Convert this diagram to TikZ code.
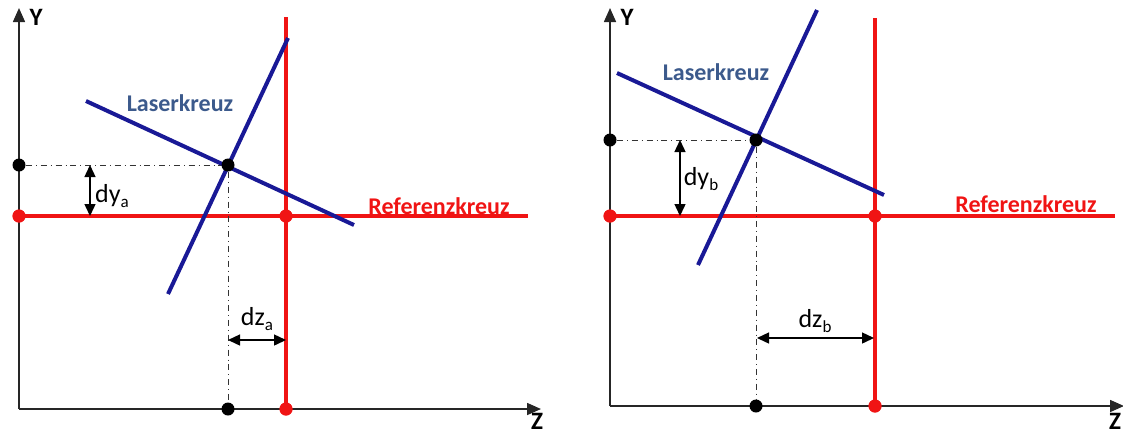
\documentclass[tikz,border=0pt]{standalone}
\usepackage{fontspec}
\setmainfont{Carlito}
\usetikzlibrary{arrows.meta}
\definecolor{refred}{RGB}{240,20,20}
\definecolor{laserblue}{RGB}{25,25,150}
\definecolor{labelblue}{RGB}{60,90,140}
\newcommand{\mysub}[1]{\raisebox{-0.4ex}{\fontsize{8.5}{8.5}\selectfont #1}}
\tikzset{
  axisline/.style={line width=0.8pt, draw=black!85, -{Triangle[length=7pt,width=6pt]}},
  refline/.style={refred, line width=2.2pt},
  laser/.style={laserblue, line width=2pt},
  guide/.style={dash dot, line width=0.5pt, black!80},
  meas/.style={{Triangle[length=6pt,width=5.5pt]}-{Triangle[length=6pt,width=5.5pt]}, line width=0.7pt},
  bdot/.style={circle, fill=black, inner sep=0pt, minimum size=6.5pt},
  rdot/.style={circle, fill=refred, inner sep=0pt, minimum size=6.5pt},
  axlbl/.style={font=\fontsize{12.5}{12.5}\selectfont\bfseries, inner sep=1pt},
  reflbl/.style={refred, font=\fontsize{12}{12}\selectfont\bfseries},
  laslbl/.style={labelblue, font=\fontsize{12}{12}\selectfont\bfseries},
  dlbl/.style={font=\fontsize{13}{13}\selectfont},
}
\begin{document}
\begin{tikzpicture}[x=0.5pt,y=-0.5pt]
\useasboundingbox (0,0) rectangle (1123,435);
% ---------- left panel ----------
\coordinate (LO) at (19,409);
\coordinate (LYtop) at (19,8);
\coordinate (LZend) at (541,409);
\draw[axisline] (LO) -- (LYtop);
\draw[axisline] (LO) -- (LZend);
\node[axlbl] (LYl) at (36,17) {Y};
\node[axlbl] (LZl) at (537,421) {Z};
\coordinate (LRend) at (528,216);
\coordinate (LRtop) at (286,17);
\node[rdot] (LRa) at (19,216) {};
\node[rdot] (LRc) at (286,216) {};
\node[rdot] (LRz) at (286,409) {};
\draw[refline] (LRa.center) -- (LRend);
\draw[refline] (LRtop) -- (LRz.center);
\coordinate (L1a) at (86,101);
\coordinate (L1b) at (354,225);
\coordinate (L2a) at (168,294);
\coordinate (L2b) at (288,38);
\draw[laser] (L1a) -- (L1b);
\draw[laser] (L2a) -- (L2b);
\node[bdot] (LBy) at (19,165) {};
\node[bdot] (LX) at (228,165) {};
\node[bdot] (LBz) at (228,409) {};
\draw[guide] (LBy) -- (LX);
\draw[guide] (LX) -- (LBz);
\node[rdot] at (LRa) {};
\node[rdot] at (LRc) {};
\node[rdot] at (LRz) {};
\coordinate (Ldy1) at (90,165);
\coordinate (Ldy2) at (90,216);
\draw[meas] (Ldy1) -- (Ldy2);
\coordinate (Ldz1) at (228,340);
\coordinate (Ldz2) at (286,340);
\draw[meas] (Ldz1) -- (Ldz2);
\node[dlbl] (Ldyl) at (112,196) {dy\mysub{a}};
\node[dlbl] (Ldzl) at (257,319) {dz\mysub{a}};
\node[laslbl] (Llas) at (180,103) {Laserkreuz};
\node[reflbl] (Lref) at (439,206) {Referenzkreuz};
% ---------- right panel ----------
\coordinate (RO) at (610,406);
\coordinate (RYtop) at (610,8);
\coordinate (RZend) at (1124,406);
\draw[axisline] (RO) -- (RYtop);
\draw[axisline] (RO) -- (RZend);
\node[axlbl] (RYl) at (627,17) {Y};
\node[axlbl] (RZl) at (1115,421) {Z};
\coordinate (RRend) at (1115,216);
\coordinate (RRtop) at (875,18);
\node[rdot] (RRa) at (610,216) {};
\node[rdot] (RRc) at (875,216) {};
\node[rdot] (RRz) at (875,406) {};
\draw[refline] (RRa.center) -- (RRend);
\draw[refline] (RRtop) -- (RRz.center);
\coordinate (R1a) at (617,73);
\coordinate (R1b) at (884,195);
\coordinate (R2a) at (698,265);
\coordinate (R2b) at (817,10);
\draw[laser] (R1a) -- (R1b);
\draw[laser] (R2a) -- (R2b);
\node[bdot] (RBy) at (610,140) {};
\node[bdot] (RX) at (756,140) {};
\node[bdot] (RBz) at (756,406) {};
\draw[guide] (RBy) -- (RX);
\draw[guide] (RX) -- (RBz);
\node[rdot] at (RRa) {};
\node[rdot] at (RRc) {};
\node[rdot] at (RRz) {};
\coordinate (Rdy1) at (680,140);
\coordinate (Rdy2) at (680,216);
\draw[meas] (Rdy1) -- (Rdy2);
\coordinate (Rdz1) at (757,338);
\coordinate (Rdz2) at (874,338);
\draw[meas] (Rdz1) -- (Rdz2);
\node[dlbl] (Rdyl) at (701,179) {dy\mysub{b}};
\node[dlbl] (Rdzl) at (815,321) {dz\mysub{b}};
\node[laslbl] (Rlas) at (716,72) {Laserkreuz};
\node[reflbl] (Rref) at (1026,204) {Referenzkreuz};
\end{tikzpicture}
\end{document}
